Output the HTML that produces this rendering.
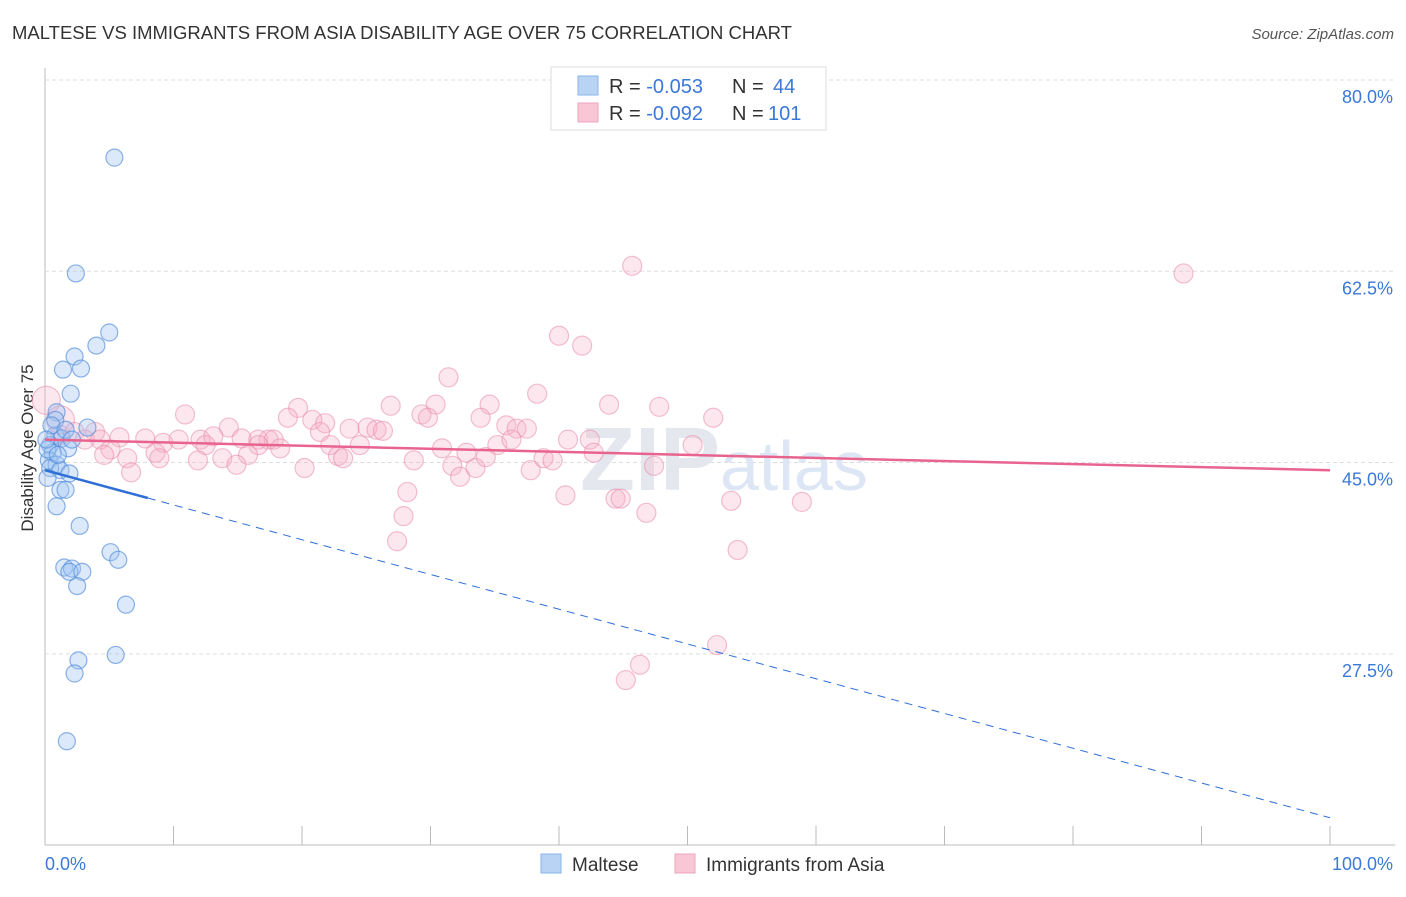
<!DOCTYPE html>
<html><head><meta charset="utf-8"><style>
body{margin:0;background:#fff;font-family:"Liberation Sans",sans-serif}
svg text{font-family:"Liberation Sans",sans-serif}
</style></head><body>
<svg id="chart" width="1406" height="892">
<text x="12" y="39" font-size="18.5" fill="#333">MALTESE VS IMMIGRANTS FROM ASIA DISABILITY AGE OVER 75 CORRELATION CHART</text>
<text x="1394" y="39" font-size="15" fill="#555" text-anchor="end" font-style="italic">Source: ZipAtlas.com</text>
<text x="40" y="455" font-size="17" fill="#333" text-anchor="middle" transform="rotate(-90 33 455)">Disability Age Over 75</text>
<g id="grid"></g>
<text x="720" y="490" font-size="90" fill="#e4e8ee" font-weight="bold" text-anchor="end" font-family="Liberation Serif">ZIP</text>
<text x="720" y="490" font-size="70" fill="#dce6f4">atlas</text>
<g id="marks"></g>
<g>
<rect x="551" y="67" width="275" height="63" fill="#fff" stroke="#ddd"/>
<rect x="578" y="76" width="20" height="19" fill="#b9d3f5" stroke="#8ab4ea"/>
<text x="609" y="93" font-size="20" fill="#333">R = <tspan fill="#3b78d8">-0.053</tspan></text>
<text x="732" y="93" font-size="20" fill="#333">N = <tspan x="773" fill="#3b78d8">44</tspan></text>
<rect x="578" y="103" width="20" height="19" fill="#f8c6d4" stroke="#eea4ba"/>
<text x="609" y="120" font-size="20" fill="#333">R = <tspan fill="#3b78d8">-0.092</tspan></text>
<text x="732" y="120" font-size="20" fill="#333">N = <tspan x="768" fill="#3b78d8">101</tspan></text>
</g>
<g>
<rect x="541" y="854" width="20" height="19" fill="#b9d3f5" stroke="#8ab4ea"/>
<text x="572" y="871" font-size="19" fill="#333">Maltese</text>
<rect x="675" y="854" width="20" height="19" fill="#f8c6d4" stroke="#eea4ba"/>
<text x="706" y="871" font-size="19" fill="#333">Immigrants from Asia</text>
</g>
<text x="45" y="870" font-size="18" fill="#3b78d8">0.0%</text>
<text x="1393" y="870" font-size="18" fill="#3b78d8" text-anchor="end">100.0%</text>
</svg>
<script>
const yTicks=[80,62.5,45,27.5];
const yTickLabels=["80.0%","62.5%","45.0%","27.5%"];
const xTicks=[0,10,20,30,40,50,60,70,80,90,100];
const malteseX=[5.4,2.4,5.0,4.0,2.3,1.4,2.8,2.0,0.9,3.3,0.8,1.3,0.4,1.8,0.6,0.3,0.9,0.4,1.2,1.9,0.2,1.2,1.6,0.9,2.7,5.1,5.7,1.5,2.1,1.9,2.9,2.5,6.3,2.6,5.5,2.3,1.7,0.8,0.2,1.0,0.5,1.6,0.1,2.1];
const malteseY=[72.9,62.3,56.9,55.7,54.7,53.5,53.6,51.3,49.6,48.2,47.5,47.2,46.6,46.3,45.9,45.2,44.8,44.5,44.3,44.0,43.6,42.5,42.5,41.0,39.2,36.8,36.1,35.4,35.3,35.0,35.0,33.7,32.0,26.9,27.4,25.7,19.5,48.9,46.2,45.7,48.4,48.0,47.1,47.1];
const asiaX=[45.7,88.6,40.0,41.8,31.4,38.3,34.6,19.7,26.9,30.4,43.9,47.8,10.9,29.3,29.8,33.9,18.9,52.0,20.8,21.8,35.9,14.3,25.1,23.7,25.8,26.3,36.7,37.5,21.4,0.1,1.2,1.2,2.3,3.9,3.1,4.3,5.8,7.8,9.2,10.4,12.1,13.1,12.5,15.3,16.6,17.4,17.8,16.6,18.3,5.1,4.6,6.4,8.6,8.9,11.9,13.8,15.8,14.9,6.7,22.2,22.8,23.2,24.5,20.2,28.7,30.9,32.8,35.2,36.3,31.7,32.3,33.5,34.3,37.8,38.8,39.5,40.7,42.4,42.7,47.4,50.4,28.2,40.5,44.4,44.8,46.8,53.4,58.9,27.9,27.4,53.9,52.3,46.3,45.2];
const asiaY=[63.0,62.3,56.6,55.7,52.8,51.3,50.3,50.0,50.2,50.3,50.3,50.1,49.4,49.4,49.1,49.1,49.1,49.1,48.9,48.6,48.4,48.2,48.2,48.1,48.0,47.9,48.1,48.1,47.8,50.7,48.9,47.5,47.8,47.8,47.1,47.1,47.3,47.2,46.8,47.1,47.1,47.4,46.6,47.2,47.1,47.1,47.1,46.6,46.3,46.2,45.7,45.4,45.9,45.4,45.2,45.4,45.7,44.8,44.1,46.6,45.6,45.4,46.6,44.5,45.2,46.3,45.9,46.6,47.1,44.7,43.7,44.5,45.5,44.3,45.4,45.2,47.1,47.1,45.9,44.7,46.6,42.3,42.0,41.7,41.7,40.4,41.5,41.4,40.1,37.8,37.0,28.3,26.5,25.1];
const malteseTrend=[44.3,12.5];
const asiaTrend=[47.1,44.3];
const malteseSolidEnd=8;
const NS="http://www.w3.org/2000/svg";
const sx=v=>45+v*12.85, sy=v=>80+(80-v)*10.93;
function mk(tag,attrs,parent){const e=document.createElementNS(NS,tag);for(const k in attrs)e.setAttribute(k,attrs[k]);parent.appendChild(e);return e;}
const grid=document.getElementById('grid'), marks=document.getElementById('marks');
let ax=mk('line',{x1:45,y1:68,x2:45,y2:845,stroke:'#bbb'},grid);


let bx=mk('line',{x1:45,y1:845,x2:1395,y2:845,stroke:'#bbb'},grid);


yTicks.forEach((t,i)=>{
 const g=mk('line',{x1:45,x2:1395,y1:sy(t),y2:sy(t),stroke:'#ddd','stroke-dasharray':'4,3'},grid);
 
 
 const l=mk('text',{x:1393,y:sy(t)+23,'font-size':18,fill:'#3b78d8','text-anchor':'end'},grid);
 l.textContent=yTickLabels[i];
 
 
});
xTicks.forEach(t=>{
 const k=mk('line',{x1:sx(t),x2:sx(t),y1:826,y2:845,stroke:'#bbb'},grid);
 
 
});
asiaX.forEach((x,i)=>{
 const r=(x<1.5&&asiaY[i]>48.5)?14:9.5;
 const c=mk('circle',{cx:sx(x),cy:sy(asiaY[i]),r:r,fill:'rgba(246,175,198,0.3)',stroke:'rgba(234,140,170,0.55)','stroke-width':1.2},marks);
 
 
});
malteseX.forEach((x,i)=>{
 const c=mk('circle',{cx:sx(x),cy:sy(malteseY[i]),r:8.5,fill:'rgba(160,198,242,0.38)',stroke:'rgba(80,138,218,0.65)','stroke-width':1.2},marks);
 
 
});
const tl=(a,b,x)=>a+(b-a)*x/100;
let p=mk('line',{x1:sx(0),y1:sy(asiaTrend[0]),x2:sx(100),y2:sy(asiaTrend[1]),stroke:'#e8648f','stroke-width':2.5},marks);


let b1=mk('line',{x1:sx(0),y1:sy(malteseTrend[0]),x2:sx(malteseSolidEnd),y2:sy(tl(malteseTrend[0],malteseTrend[1],malteseSolidEnd)),stroke:'#2f6fd6','stroke-width':2.5},marks);


let b2=mk('line',{x1:sx(malteseSolidEnd),y1:sy(tl(malteseTrend[0],malteseTrend[1],malteseSolidEnd)),x2:sx(100),y2:sy(malteseTrend[1]),stroke:'#2f6fd6','stroke-width':1,'stroke-dasharray':'8,6'},marks);


</script>
</body></html>
